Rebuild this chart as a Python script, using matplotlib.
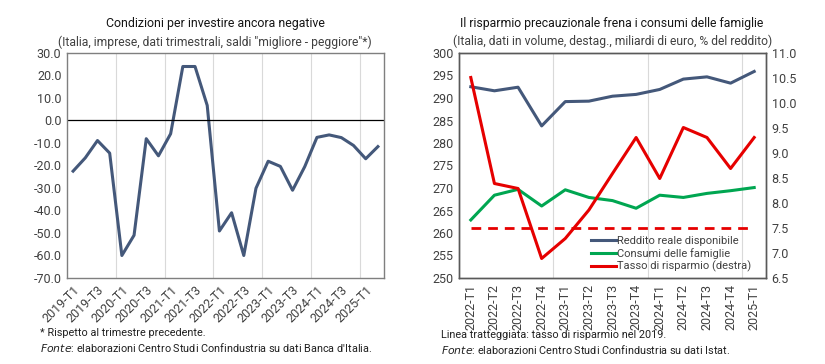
import matplotlib.pyplot as plt
import matplotlib.ticker as mticker

plt.rcParams['font.family'] = ['Roboto', 'DejaVu Sans']

# --- left chart data ---
quarters_left = [f'{y}-T{q}' for y in range(2019, 2026) for q in range(1, 5)][:26]
clima_investimenti = [-22.5, -16.6, -8.9, -14.5, -60.0, -51.0, -8.1, -15.7, -5.9, 24.0,
                      24.0, 6.7, -49.1, -41.0, -60.0, -30.1, -18.1, -20.4, -31.0, -20.5,
                      -7.5, -6.4, -7.6, -11.1, -17.0, -11.6]

# --- right chart data ---
quarters_right = ['2022-T1', '2022-T2', '2022-T3', '2022-T4', '2023-T1', '2023-T2', '2023-T3',
                  '2023-T4', '2024-T1', '2024-T2', '2024-T3', '2024-T4', '2025-T1']
reddito = [292.5, 291.6, 292.4, 283.8, 289.2, 289.3, 290.4, 290.8, 291.9, 294.2, 294.7, 293.3, 295.9]
consumi = [262.9, 268.4, 269.7, 266.0, 269.6, 267.9, 267.2, 265.5, 268.4, 267.9, 268.8, 269.4, 270.1]
tasso_risparmio = [10.51, 8.39, 8.29, 6.89, 7.29, 7.86, 8.59, 9.31, 8.49, 9.51, 9.31, 8.69, 9.31]
tasso_2019 = 7.5

BLUE = '#44587a'
GREEN = '#00a651'
RED = '#e60000'
TXT = '#404040'

fig = plt.figure(figsize=(8.25, 3.64), dpi=100)
W, H = 825, 364


def px_axes(x0, y0, x1, y1):
    return fig.add_axes([x0 / W, 1 - y1 / H, (x1 - x0) / W, (y1 - y0) / H])


# ---------- left chart ----------
ax1 = px_axes(67, 53, 384, 278)
n1 = len(quarters_left)
x1 = list(range(n1))
ax1.plot(x1, clima_investimenti, color=BLUE, lw=2.2)
ax1.axhline(0, color='black', lw=0.9)
ax1.set_xlim(-0.5, n1 - 0.5)
ax1.set_ylim(-70, 30)
ax1.set_yticks(range(-70, 31, 10))
ax1.yaxis.set_major_formatter(mticker.FuncFormatter(lambda v, p: f'{v:.1f}'))
ax1.set_xticks(x1[::2])
ax1.set_xticklabels(quarters_left[::2], rotation=45, ha='right', va='top',
                    rotation_mode='anchor')
for b in range(4, n1, 4):
    ax1.axvline(b - 0.5, color='#d9d9d9', lw=0.8, zorder=0)
for s in ax1.spines.values():
    s.set_color('#7f7f7f')
    s.set_linewidth(1.0)
ax1.tick_params(length=0, labelsize=9, colors=TXT, pad=4)

fig.text(215 / W, 1 - 24 / H, 'Condizioni per investire ancora negative',
         ha='center', va='center', fontsize=8.9, color='#151515')
fig.text(215 / W, 1 - 42 / H,
         '(Italia, imprese, dati trimestrali, saldi "migliore - peggiore"*)',
         ha='center', va='center', fontsize=8.7, color=TXT)
fig.text(40 / W, 1 - 333 / H, '* Rispetto al trimestre precedente.',
         ha='left', va='center', fontsize=7.8, color='#202020')
fig.text(40 / W, 1 - 347 / H,
         "$\\it{Fonte}$: elaborazioni Centro Studi Confindustria su dati Banca d'Italia.",
         ha='left', va='center', fontsize=7.8, color='#202020')

# ---------- right chart ----------
ax2 = px_axes(459, 53, 766, 278)
n2 = len(quarters_right)
x2 = list(range(n2))
ax2.plot(x2, reddito, color=BLUE, lw=2.2, label='Reddito reale disponibile')
ax2.plot(x2, consumi, color=GREEN, lw=2.2, label='Consumi delle famiglie')
ax2.set_xlim(-0.5, n2 - 0.5)
ax2.set_ylim(250, 300)
ax2.set_yticks(range(250, 301, 5))
ax2.set_xticks(x2)
ax2.set_xticklabels(quarters_right, rotation=90)
for b in range(4, n2, 4):
    ax2.axvline(b - 0.5, color='#d9d9d9', lw=0.8, zorder=0)

ax3 = ax2.twinx()
ax3.plot(x2, tasso_risparmio, color=RED, lw=2.2, label='Tasso di risparmio (destra)')
ax3.plot(x2, [tasso_2019] * n2, color=RED, lw=2.0, ls=(0, (3.5, 2.5)))
ax3.set_ylim(6.5, 11.0)
ax3.set_yticks([6.5 + 0.5 * i for i in range(10)])
ax3.yaxis.set_major_formatter(mticker.FuncFormatter(lambda v, p: f'{v:.1f}'))

for a in (ax2, ax3):
    for s in a.spines.values():
        s.set_color('#595959')
        s.set_linewidth(1.0)
    a.tick_params(length=0, labelsize=9, colors=TXT, pad=4)

h1, l1 = ax2.get_legend_handles_labels()
h3, l3 = ax3.get_legend_handles_labels()
leg = ax3.legend(h1 + h3[:1], l1 + l3[:1], loc='lower right', frameon=False,
                 fontsize=8.0, handlelength=2.25, handletextpad=0.08, labelspacing=0.2,
                 borderaxespad=0, borderpad=0, bbox_to_anchor=(0.95, 0.025))
for t in leg.get_texts():
    t.set_color(TXT)

fig.text(612 / W, 1 - 24 / H, 'Il risparmio precauzionale frena i consumi delle famiglie',
         ha='center', va='center', fontsize=8.8, color='#151515')
fig.text(613 / W, 1 - 41 / H,
         '(Italia, dati in volume, destag., miliardi di euro, % del reddito)',
         ha='center', va='center', fontsize=8.7, color=TXT)
fig.text(441 / W, 1 - 335 / H, 'Linea tratteggiata: tasso di risparmio nel 2019.',
         ha='left', va='center', fontsize=7.8, color='#202020')
fig.text(441 / W, 1 - 349 / H,
         '$\\it{Fonte}$: elaborazioni Centro Studi Confindustria su dati Istat.',
         ha='left', va='center', fontsize=7.8, color='#202020')

fig.savefig('out.png', dpi=100, facecolor='white')
